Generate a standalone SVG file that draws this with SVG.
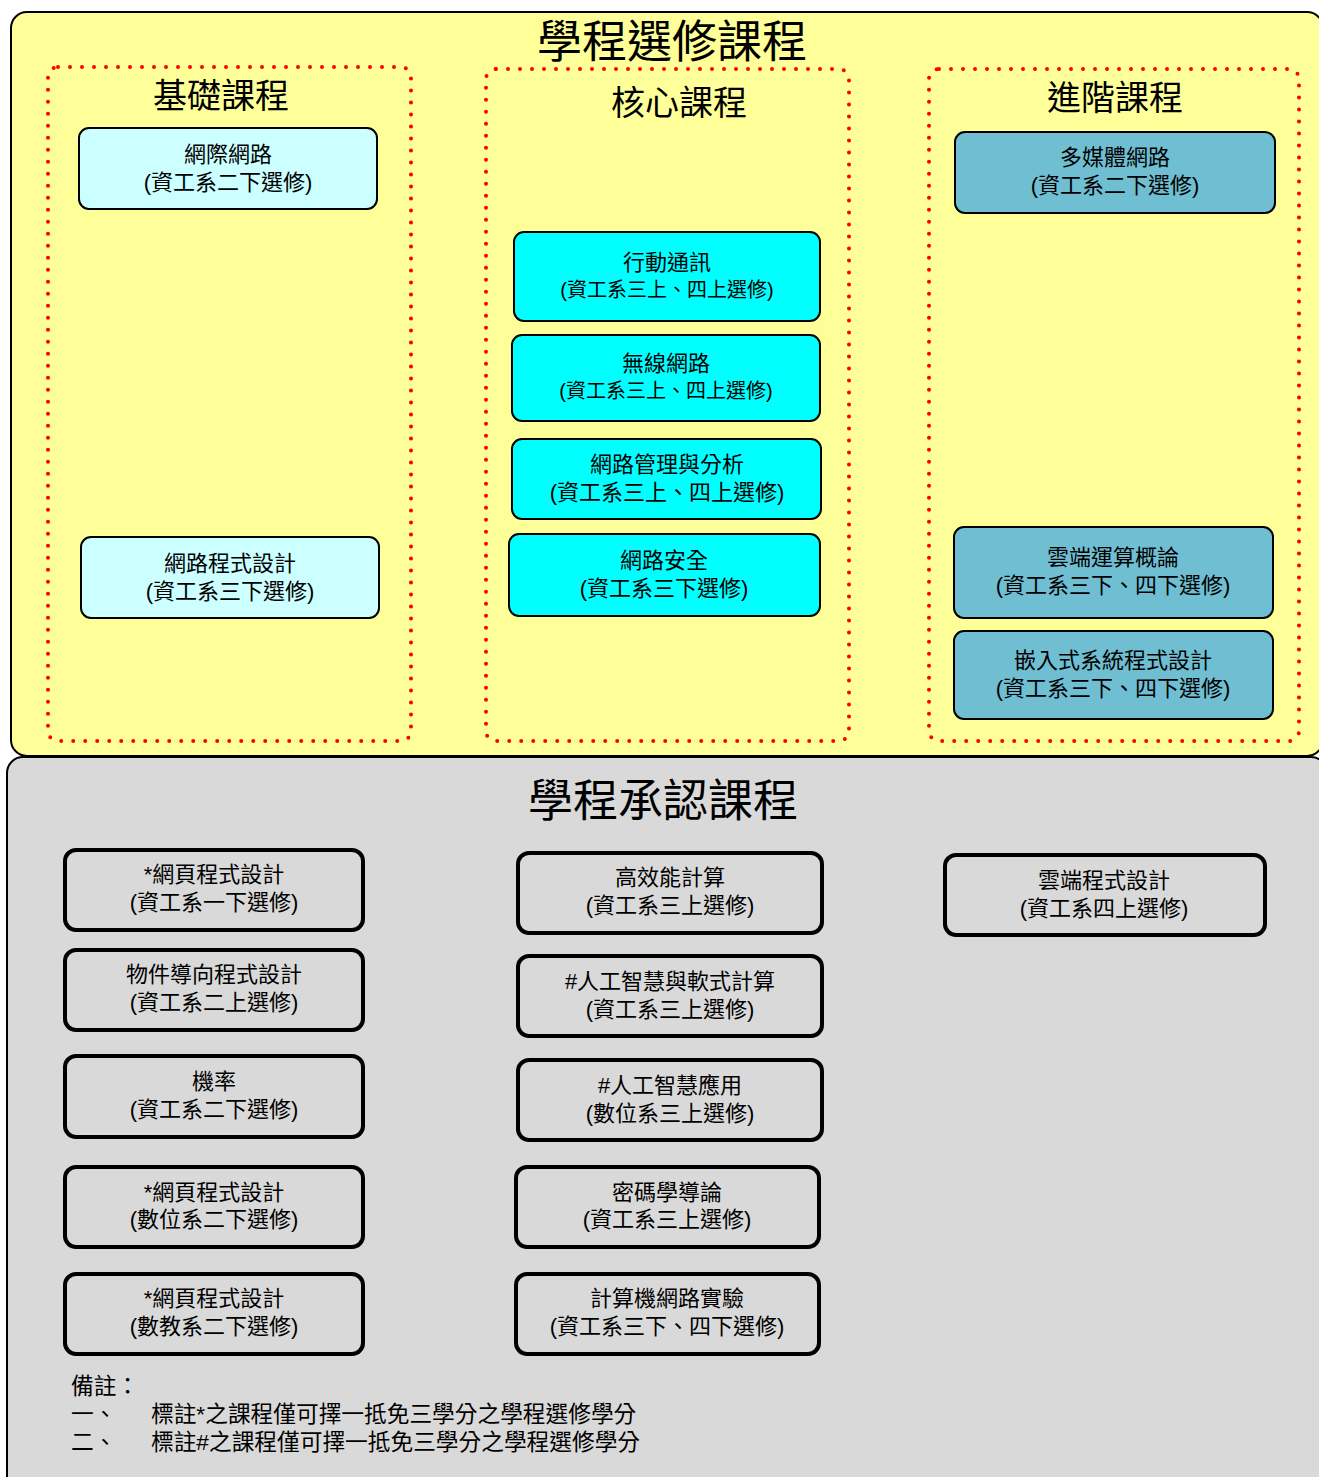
<svg xmlns="http://www.w3.org/2000/svg" width="1319" height="1477" viewBox="0 0 1319 1477">
<style>
text{font-family:"Liberation Sans","Noto Sans CJK TC",sans-serif;fill:#000;text-anchor:middle}
.title{font-size:45px}
.sec{font-size:34px}
.t{font-size:22px}
.s{font-size:20px}
.note{font-size:22.7px;text-anchor:start}
.dot{fill:none;stroke:#FF0000;stroke-width:4;stroke-dasharray:0 12;stroke-linecap:round}
.lc{fill:#CCFFFF;stroke:#000;stroke-width:2}
.cy{fill:#00FFFF;stroke:#000;stroke-width:2}
.bl{fill:#6FBED2;stroke:#000;stroke-width:2}
.gr{fill:#D9D9D9;stroke:#000;stroke-width:4}
</style>
<rect width="1319" height="1477" fill="#FFFFFF"/>
<g id="elective">
<rect x="11" y="12" width="1312" height="744" rx="16" fill="#FFFF99" stroke="#000" stroke-width="2"/>
<text class="title" x="672" y="58">學程選修課程</text>
</g>
<g id="basic">
<rect class="dot" x="48" y="67" width="363" height="674" rx="10"/>
<text class="sec" x="221" y="108">基礎課程</text>
</g>
<g id="core">
<rect class="dot" x="486" y="69" width="363" height="672" rx="10"/>
<text class="sec" x="679" y="115">核心課程</text>
</g>
<g id="advanced">
<rect class="dot" x="929" y="69" width="370" height="672" rx="10"/>
<text class="sec" x="1115" y="110">進階課程</text>
</g>
<g id="n-internet"><rect class="lc" x="79" y="128" width="298" height="81" rx="10"/><text class="t" x="228" y="162">網際網路</text><text class="t" x="228" y="190">(資工系二下選修)</text></g>
<g id="n-netprog"><rect class="lc" x="81" y="537" width="298" height="81" rx="10"/><text class="t" x="230" y="571">網路程式設計</text><text class="t" x="230" y="599">(資工系三下選修)</text></g>
<g id="n-mobile"><rect class="cy" x="514" y="232" width="306" height="89" rx="10"/><text class="t" x="667" y="270">行動通訊</text><text class="s" x="667" y="297">(資工系三上、四上選修)</text></g>
<g id="n-wireless"><rect class="cy" x="512" y="335" width="308" height="86" rx="10"/><text class="t" x="666" y="371">無線網路</text><text class="s" x="666" y="398">(資工系三上、四上選修)</text></g>
<g id="n-netmgmt"><rect class="cy" x="512" y="439" width="309" height="80" rx="10"/><text class="t" x="667" y="472">網路管理與分析</text><text class="t" x="667" y="500">(資工系三上、四上選修)</text></g>
<g id="n-netsec"><rect class="cy" x="509" y="534" width="311" height="82" rx="10"/><text class="t" x="664" y="568">網路安全</text><text class="t" x="664" y="596">(資工系三下選修)</text></g>
<g id="n-multimedia"><rect class="bl" x="955" y="132" width="320" height="81" rx="10"/><text class="t" x="1115" y="165">多媒體網路</text><text class="t" x="1115" y="193">(資工系二下選修)</text></g>
<g id="n-cloud"><rect class="bl" x="954" y="527" width="319" height="91" rx="10"/><text class="t" x="1113" y="565">雲端運算概論</text><text class="t" x="1113" y="593">(資工系三下、四下選修)</text></g>
<g id="n-embedded"><rect class="bl" x="954" y="631" width="319" height="88" rx="10"/><text class="t" x="1113" y="668">嵌入式系統程式設計</text><text class="t" x="1113" y="696">(資工系三下、四下選修)</text></g>
<g id="recognized">
<rect x="7" y="757" width="1320" height="740" rx="16" fill="#D9D9D9" stroke="#000" stroke-width="2"/>
<text class="title" x="663" y="817">學程承認課程</text>
</g>
<g id="r-web1"><rect class="gr" x="65" y="850" width="298" height="80" rx="11"/><text class="t" x="214" y="882">*網頁程式設計</text><text class="t" x="214" y="910">(資工系一下選修)</text></g>
<g id="r-oop"><rect class="gr" x="65" y="950" width="298" height="80" rx="11"/><text class="t" x="214" y="982">物件導向程式設計</text><text class="t" x="214" y="1010">(資工系二上選修)</text></g>
<g id="r-prob"><rect class="gr" x="65" y="1056" width="298" height="81" rx="11"/><text class="t" x="214" y="1089">機率</text><text class="t" x="214" y="1117">(資工系二下選修)</text></g>
<g id="r-web2"><rect class="gr" x="65" y="1167" width="298" height="80" rx="11"/><text class="t" x="214" y="1200">*網頁程式設計</text><text class="t" x="214" y="1227">(數位系二下選修)</text></g>
<g id="r-web3"><rect class="gr" x="65" y="1274" width="298" height="80" rx="11"/><text class="t" x="214" y="1306">*網頁程式設計</text><text class="t" x="214" y="1334">(數教系二下選修)</text></g>
<g id="r-hpc"><rect class="gr" x="518" y="853" width="304" height="80" rx="11"/><text class="t" x="670" y="885">高效能計算</text><text class="t" x="670" y="913">(資工系三上選修)</text></g>
<g id="r-aisc"><rect class="gr" x="518" y="956" width="304" height="80" rx="11"/><text class="t" x="670" y="989">#人工智慧與軟式計算</text><text class="t" x="670" y="1017">(資工系三上選修)</text></g>
<g id="r-aiapp"><rect class="gr" x="518" y="1060" width="304" height="80" rx="11"/><text class="t" x="670" y="1093">#人工智慧應用</text><text class="t" x="670" y="1121">(數位系三上選修)</text></g>
<g id="r-crypto"><rect class="gr" x="516" y="1167" width="303" height="80" rx="11"/><text class="t" x="667" y="1200">密碼學導論</text><text class="t" x="667" y="1227">(資工系三上選修)</text></g>
<g id="r-netlab"><rect class="gr" x="516" y="1274" width="303" height="80" rx="11"/><text class="t" x="667" y="1306">計算機網路實驗</text><text class="t" x="667" y="1334">(資工系三下、四下選修)</text></g>
<g id="r-cloudprog"><rect class="gr" x="945" y="855" width="320" height="80" rx="11"/><text class="t" x="1104" y="888">雲端程式設計</text><text class="t" x="1104" y="916">(資工系四上選修)</text></g>
<g id="notes">
<text class="note" x="71" y="1394">備註：</text>
<text class="note" x="71" y="1422">一、</text>
<text class="note" x="151" y="1422">標註*之課程僅可擇一抵免三學分之學程選修學分</text>
<text class="note" x="71" y="1450">二、</text>
<text class="note" x="151" y="1450">標註#之課程僅可擇一抵免三學分之學程選修學分</text>
</g>
<g id="connectors"></g>
</svg>
